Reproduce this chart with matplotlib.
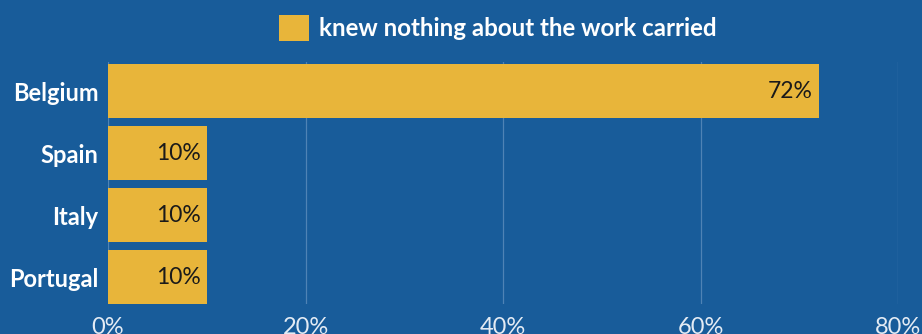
import matplotlib.pyplot as plt

countries = ["Belgium", "Spain", "Italy", "Portugal"]
values = [72, 10, 10, 10]
ticks = [0, 20, 40, 60, 80]
tick_labels = ["0%", "20%", "40%", "60%", "80%"]
series_name = "knew nothing about the work carried"

bg = "#185c9a"
bar_color = "#e8b53a"

plt.rcParams['font.family'] = ['Lato', 'DejaVu Sans']

fig = plt.figure(figsize=(9.22, 3.34), dpi=100, facecolor=bg)
ax = fig.add_axes([108/922, 1 - 304/334, 790/922, 242/334])
ax.set_facecolor(bg)

y = list(range(len(countries)))
ax.barh(y, values, height=0.87, color=bar_color, linewidth=0, zorder=3,
        label=series_name)

for yi, v in zip(y, values):
    ax.text(v - 0.6, yi, f"{v}%", ha="right", va="center", fontsize=16.5,
            color="#1a1a1a", zorder=4)

ax.set_xlim(0, 80)
ax.set_ylim(3.435, -0.468)
ax.set_xticks(ticks)
ax.set_xticklabels(tick_labels, fontsize=17, color="#e3ebf4")
ax.set_yticks(y)
ax.set_yticklabels(countries, fontsize=17, fontweight="bold", color="white")
ax.tick_params(axis="both", length=0)
ax.tick_params(axis="x", pad=9)
ax.tick_params(axis="y", pad=7)
ax.grid(axis="x", color="#4f83b5", linewidth=0.9, zorder=0)
for s in ax.spines.values():
    s.set_visible(False)

leg = fig.legend(loc="upper center", bbox_to_anchor=(0.54, 1.02), frameon=False,
                 handlelength=1.25, handleheight=1.25, handletextpad=0.4,
                 prop={"size": 17.4, "weight": "bold"})
for t in leg.get_texts():
    t.set_color("white")

plt.savefig("out.png", dpi=100, facecolor=bg)
